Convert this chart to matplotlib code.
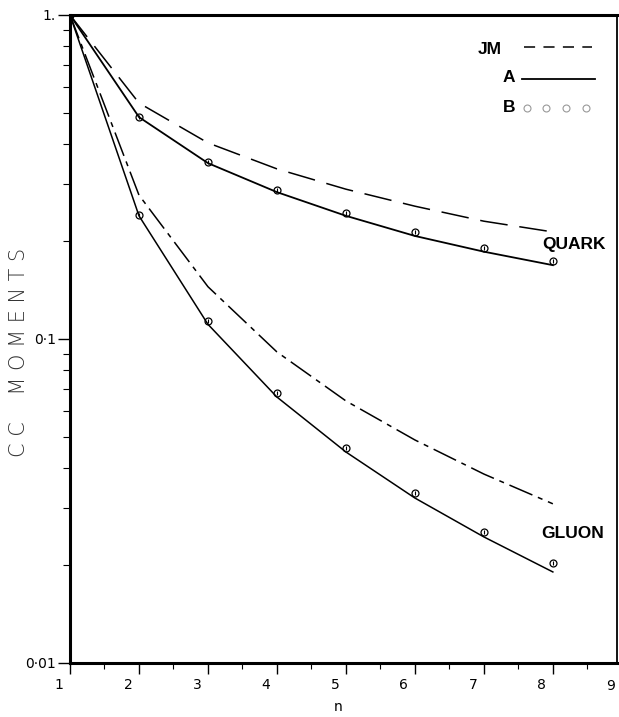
import numpy as np
import matplotlib
matplotlib.use('Agg')
import matplotlib.pyplot as plt
from matplotlib.transforms import ScaledTranslation

# moments vs n
n = [1, 2, 3, 4, 5, 6, 7, 8]

quark_jm = [1.0, 0.535, 0.403, 0.335, 0.290, 0.257, 0.231, 0.214]
quark_a = [1.0, 0.484, 0.349, 0.284, 0.240, 0.208, 0.186, 0.169]
quark_b = [0.484, 0.352, 0.288, 0.245, 0.214, 0.191, 0.174]

gluon_jm = [1.0, 0.278, 0.145, 0.0912, 0.0644, 0.0488, 0.0383, 0.0310]
gluon_a = [1.0, 0.240, 0.111, 0.0662, 0.0448, 0.0323, 0.0245, 0.0191]
gluon_b = [0.241, 0.1137, 0.0681, 0.0461, 0.0335, 0.0254, 0.0204]
n_b = [2, 3, 4, 5, 6, 7, 8]

y_ticks = [0.01, 0.1, 1.0]
y_ticklabels = ['0·01', '0·1', '1.']
x_ticks = [1, 2, 3, 4, 5, 6, 7, 8]

plt.rcParams['font.family'] = ['DejaVu Sans']
plt.rcParams['lines.scale_dashes'] = False

W, H = 619, 717
fig = plt.figure(figsize=(W / 100, H / 100), dpi=100)
ax = fig.add_axes([70 / W, 1 - 663 / H, (617 - 70) / W, (663 - 15) / H])

lw = 1.1
dash = (0, (20, 8.5))
dashdot = (0, (18, 4.3, 3.6, 4.3))

# ---- curves
ax.plot(n, quark_jm, color='k', lw=lw, linestyle=dash)
ax.plot(n, quark_a, color='k', lw=lw + 0.2)
ax.plot(n, gluon_jm, color='k', lw=lw, linestyle=dashdot)
ax.plot(n, gluon_a, color='k', lw=lw)

for vals in (quark_b, gluon_b):
    ax.plot(n_b, vals, linestyle='none', marker='o', markersize=5,
            markerfacecolor='none', markeredgecolor='k', markeredgewidth=0.9)
    ax.plot(n_b, vals, linestyle='none', marker='|', markersize=2.5,
            markeredgecolor='k', markeredgewidth=0.8)
ax.plot([1], [1.0], marker='o', markersize=5, color='k')

# ---- axes setup
ax.set_yscale('log')
ax.set_ylim(0.01, 1.0)
ax.set_xlim(1, 8.93)
ax.set_yticks(y_ticks)
ax.set_yticklabels(y_ticklabels, fontsize=10)
ax.set_xticks(x_ticks)
ax.set_xticklabels([str(v) for v in x_ticks], fontsize=10)
ax.set_xticks(np.arange(1.5, 9, 1.0), minor=True)
ax.tick_params(axis='x', which='major', direction='out', length=8, width=1, pad=3)
ax.tick_params(axis='x', which='minor', direction='out', length=4, width=0.8)
ax.tick_params(axis='y', which='major', direction='out', length=9, width=1, pad=1)
ax.tick_params(axis='y', which='minor', direction='out', length=5, width=0.8, labelleft=False)
ax.yaxis.set_minor_formatter(matplotlib.ticker.NullFormatter())

for lab in ax.get_xticklabels():
    lab.set_transform(lab.get_transform() + ScaledTranslation(-11 / 100, 0, fig.dpi_scale_trans))
# x=9 lies just outside the visible range, so its label is placed by hand
ax.text(9, 0, '9', fontsize=10, ha='center', va='top', clip_on=False,
        transform=ax.get_xaxis_transform() + ScaledTranslation(-11 / 100, -16 / 100, fig.dpi_scale_trans))

for side in ['left', 'bottom', 'top']:
    ax.spines[side].set_linewidth(2.2)
ax.spines['right'].set_linewidth(1.3)

# ---- labels
fig.text(338 / W, 1 - 707 / H, 'n', fontsize=10, ha='center', va='center')
fig.text(19 / W, 1 - 352 / H, 'C C    M O M E N T S', rotation=90, ha='center', va='center',
         fontsize=15, color='#333333', fontweight='light')

ax.text((574 - 70) / 547, (663 - 244) / 648, 'QUARK', transform=ax.transAxes,
        fontsize=12.5, fontweight='bold', family='Liberation Sans', ha='center', va='center')
ax.text((573 - 70) / 547, (663 - 534) / 648, 'GLUON', transform=ax.transAxes,
        fontsize=12.5, fontweight='bold', family='Liberation Sans', ha='center', va='center')


# ---- hand-drawn style key
def ax_xy(px, py):
    return (px - 70) / 547, (663 - py) / 648


kx, ky = ax_xy(502, 49)
ax.text(kx, ky, 'JM', transform=ax.transAxes, fontsize=12.5, fontweight='bold',
        family='Liberation Sans', ha='right', va='center')
x0, y0 = ax_xy(524, 47)
x1, _ = ax_xy(592, 47)
ax.plot([x0, x1], [y0, y0], transform=ax.transAxes, color='k', lw=lw,
        linestyle=(0, (8, 6)), clip_on=False)

kx, ky = ax_xy(515, 78)
ax.text(kx, ky, 'A', transform=ax.transAxes, fontsize=12.5, fontweight='bold',
        family='Liberation Sans', ha='right', va='center')
x0, y0 = ax_xy(522, 79)
x1, _ = ax_xy(595, 79)
ax.plot([x0, x1], [y0, y0], transform=ax.transAxes, color='k', lw=lw + 0.2)

kx, ky = ax_xy(515, 107)
ax.text(kx, ky, 'B', transform=ax.transAxes, fontsize=12.5, fontweight='bold',
        family='Liberation Sans', ha='right', va='center')
for px in [527, 546, 566, 586]:
    cx, cy = ax_xy(px, 108)
    ax.plot([cx], [cy], transform=ax.transAxes, marker='o', markersize=5,
            markerfacecolor='none', markeredgecolor='#999999', markeredgewidth=0.8)

fig.savefig('out.png', dpi=100)
